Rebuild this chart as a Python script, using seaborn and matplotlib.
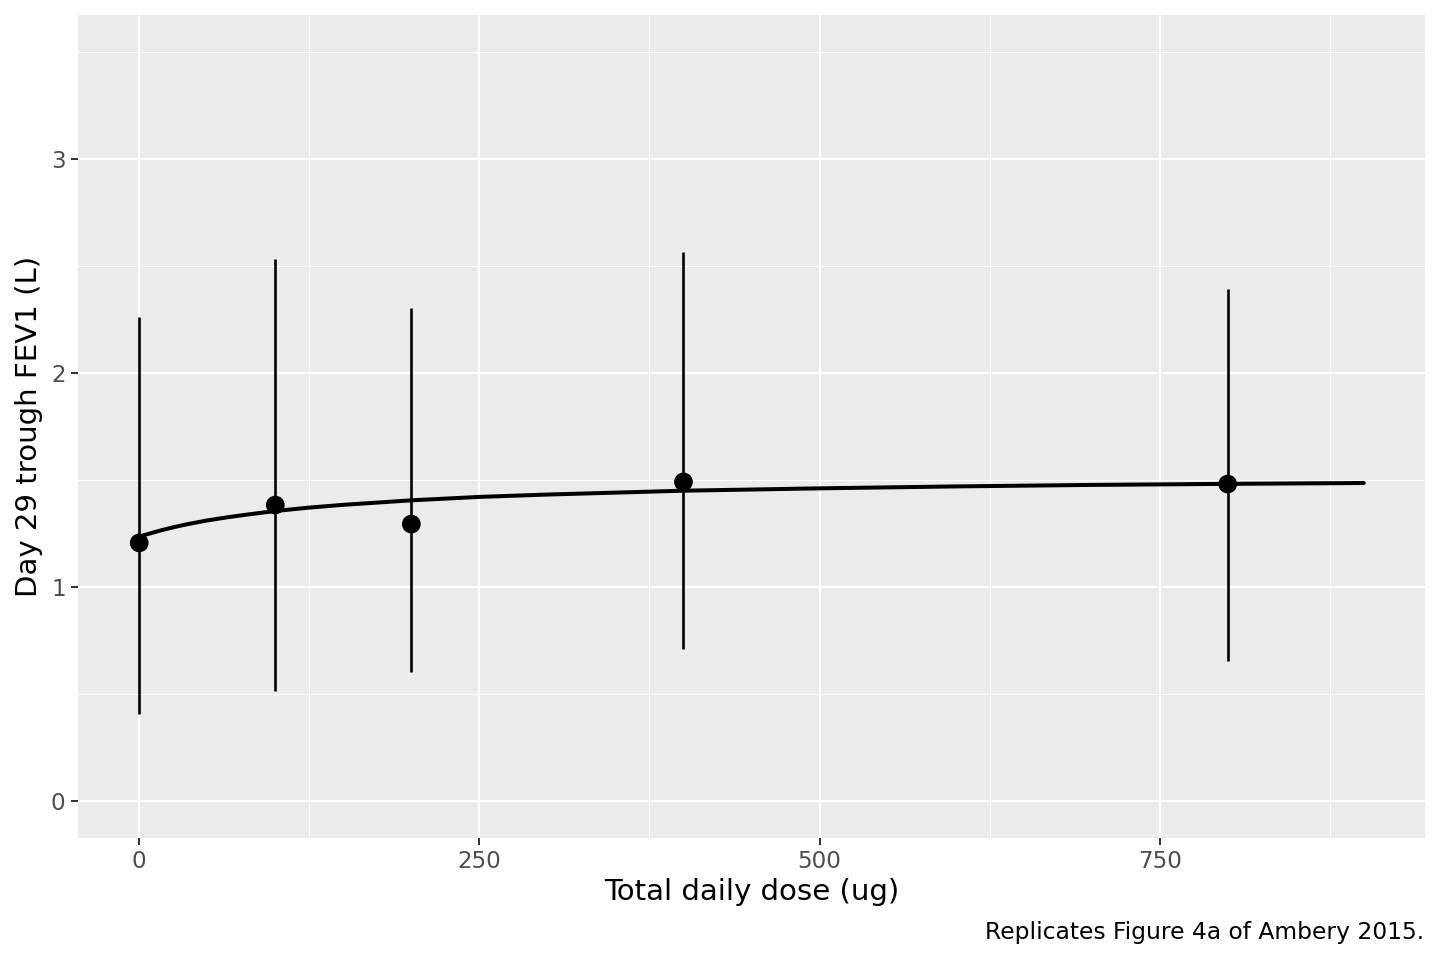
import matplotlib
matplotlib.use("Agg")
from matplotlib import pyplot as plt
from matplotlib.ticker import MultipleLocator
import pandas as pd
import seaborn as sns

# observed means and intervals per dose
dose = [0, 100, 200, 400, 800]
fev1 = [1.206, 1.383, 1.294, 1.491, 1.481]
lower = [0.407, 0.514, 0.603, 0.710, 0.654]
upper = [2.262, 2.533, 2.304, 2.565, 2.393]

# fitted curve
curve_dose = [0, 5, 10, 15, 25, 35, 50, 65, 80, 100, 125, 150, 200, 250, 300,
              400, 500, 600, 700, 800, 900]
curve_fev1 = [1.235, 1.245, 1.254, 1.263, 1.279, 1.293, 1.311, 1.326, 1.339, 1.355,
              1.371, 1.384, 1.405, 1.421, 1.432, 1.450, 1.461, 1.470, 1.477, 1.482, 1.486]

obs = pd.DataFrame({"dose": dose, "fev1": fev1, "lower": lower, "upper": upper})
fit = pd.DataFrame({"dose": curve_dose, "fev1": curve_fev1})

sns.set_theme(style="darkgrid", rc={
    "axes.facecolor": "#EBEBEB",
    "grid.color": "white",
    "axes.edgecolor": "none",
})
plt.rcParams["font.family"] = ["DejaVu Sans"]

fig = plt.figure(figsize=(8, 960 / 180), dpi=180)
ax = fig.add_axes([78 / 1440, 1 - 838 / 960, (1425 - 78) / 1440, (838 - 15) / 960])

ax.vlines(obs["dose"], obs["lower"], obs["upper"], color="black", linewidth=1.05, zorder=3)
sns.lineplot(data=fit, x="dose", y="fev1", color="black", linewidth=1.6, ax=ax, zorder=4)
sns.scatterplot(data=obs, x="dose", y="fev1", color="black", s=56, edgecolor="none",
                ax=ax, zorder=5)

ax.set_xlim(-45, 945)
ax.set_ylim(-0.173, 3.673)
ax.xaxis.set_major_locator(MultipleLocator(250))
ax.xaxis.set_minor_locator(MultipleLocator(125))
ax.yaxis.set_major_locator(MultipleLocator(1))
ax.yaxis.set_minor_locator(MultipleLocator(0.5))
ax.grid(which="major", color="white", linewidth=0.85)
ax.grid(which="minor", color="white", linewidth=0.42)
ax.set_axisbelow(True)

ax.tick_params(axis="both", which="major", length=2.75, width=0.8, color="#333333",
               labelsize=9.2, labelcolor="#4D4D4D", pad=2.2, bottom=True, left=True)
ax.tick_params(axis="both", which="minor", length=0)

ax.set_xlabel("Total daily dose (ug)", fontsize=11.7, color="black", labelpad=2)
ax.set_ylabel("Day 29 trough FEV1 (L)", fontsize=11.7, color="black", labelpad=3)

fig.text(1424 / 1440, 1 - 932 / 960, "Replicates Figure 4a of Ambery 2015.",
         ha="right", va="center", fontsize=9.35, color="black")

fig.savefig("out.png", dpi=180, facecolor="white")
